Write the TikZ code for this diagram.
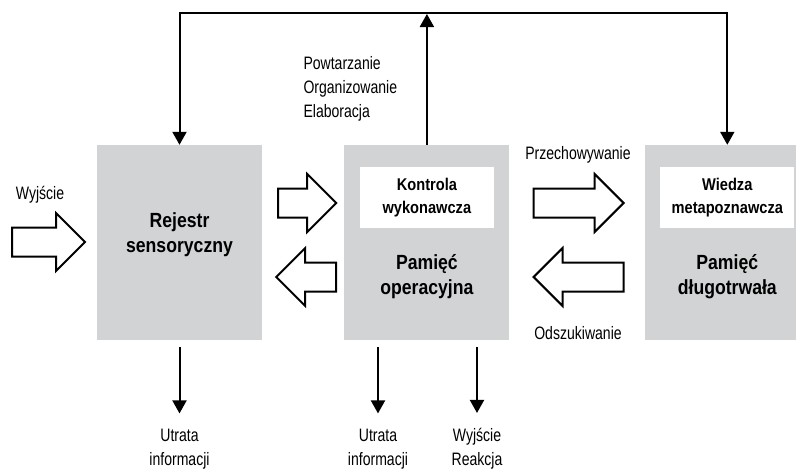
\documentclass[tikz,border=0pt]{standalone}
\usepackage{fontspec}
\setmainfont{Liberation Sans}[FakeStretch=0.78, BoldFeatures={FakeStretch=0.86}]
\usepackage{tikz}
\usetikzlibrary{arrows.meta, calc, positioning}
\definecolor{boxGray}{RGB}{209, 211, 212}
\newcommand{\FatArrow}[3][1]{
	\def\adir{#1}
	\def\alen{#3}
	\begin{scope}[shift={#2}, xscale=\adir]
		\draw[fat] (0,-14.5) -- (\alen-29,-14.5) -- (\alen-29,-29) -- (\alen,0) -- (\alen-29,29) -- (\alen-29,14.5) -- (0,14.5) -- cycle;
	\end{scope}
}
\tikzset{
	box/.style={rectangle, fill=boxGray, minimum width=165pt, minimum height=195pt, inner sep=0pt},
	inner/.style={rectangle, fill=white, minimum width=134pt, minimum height=61pt, inner sep=0pt, align=center, font=\bfseries\fontsize{17}{23}\selectfont},
	boxlabel/.style={align=center, font=\bfseries\fontsize{20.5}{25}\selectfont},
	lbl/.style={align=center, font=\fontsize{18}{24}\selectfont},
	fat/.style={draw=black, fill=white, line width=2pt},
	flow/.style={line width=2pt}
}

\begin{document}
\begin{tikzpicture}[x=1pt, y=-1pt, >={Triangle[width=14pt,length=13pt]}, line join=miter]

	\useasboundingbox (0,0) rectangle (796,469);
	\clip (0,0) rectangle (796,469);

	\coordinate (fbtop) at (0,13);

	\node[box] (rejestr) at (179.5,242.5) {};
	\node[box, right=82pt of rejestr] (pamop) {};
	\node[box, right=135pt of pamop] (pamdl) {};

	\node[inner] (kontrola) at ($(pamop.north)+(0,52.5)$) {Kontrola\\wykonawcza};
	\node[inner] (wiedza) at ($(pamdl.north)+(0,52.5)$) {Wiedza\\metapoznawcza};

	\node[boxlabel] (rejestrtxt) at ($(rejestr.center)+(0,-7.5)$) {Rejestr\\sensoryczny};
	\node[boxlabel] (pamoptxt) at ($(pamop.center)+(0,34.5)$) {Pamięć\\operacyjna};
	\node[boxlabel] (pamdltxt) at ($(pamdl.center)+(0,34.5)$) {Pamięć\\długotrwała};

	% fat arrows between the stores
	\FatArrow{(12,242)}{73}
	\FatArrow{($(rejestr.east)+(16,-39.5)$)}{58}
	\FatArrow[-1]{($(pamop.west)+(-8,34.5)$)}{60}
	\FatArrow{($(pamop.east)+(24,-39.5)$)}{90}
	\FatArrow[-1]{($(pamdl.west)+(-21,34.5)$)}{90}

	\node[lbl] (input) at (40,195) {Wyjście};
	\node[lbl] (store) at (578,155) {Przechowywanie};
	\node[lbl] (fetch) at (578,333) {Odszukiwanie};
	\node[lbl, align=left, anchor=west] (rehearse) at (300,89) {Powtarzanie\\Organizowanie\\Elaboracja};

	\node[lbl] (lossA) at (179.5,449) {Utrata\\informacji};
	\node[lbl] (lossB) at (378,449) {Utrata\\informacji};
	\node[lbl] (react) at (477,449) {Wyjście\\Reakcja};

	% control loop over the top
	\coordinate (fbmid) at ($(pamop.north |- fbtop)+(0,1)$);
	\draw[flow, <->] (rejestr.north) -- (rejestr.north |- fbtop) -- (pamdl.north |- fbtop) -- (pamdl.north);
	\draw[flow, ->] (pamop.north) -- (fbmid);

	\draw[flow, ->] ($(rejestr.south)+(0,7)$) -- ($(lossA.north)+(0,-12)$);
	\draw[flow, ->] ($(pamop.south -| lossB)+(0,7)$) -- ($(lossB.north)+(0,-12)$);
	\draw[flow, ->] ($(pamop.south -| react)+(0,7)$) -- ($(react.north)+(0,-12)$);

\end{tikzpicture}
\end{document}
